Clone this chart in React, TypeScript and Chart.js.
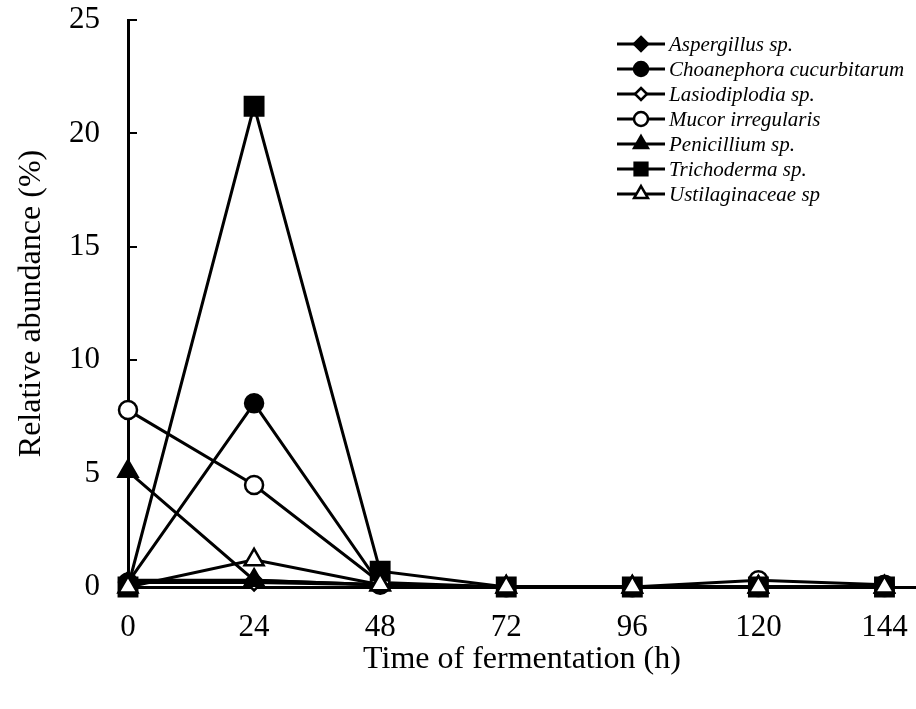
import React, { useEffect, useRef } from "react";
import { Chart, registerables } from "chart.js";

Chart.register(...registerables);

const hours = [0, 24, 48, 72, 96, 120, 144];
const seriesNames = [
  "Aspergillus sp.",
  "Choanephora cucurbitarum",
  "Lasiodiplodia sp.",
  "Mucor irregularis",
  "Penicillium sp.",
  "Trichoderma sp.",
  "Ustilaginaceae sp",
];
const aspergillus = [0.3, 0.3, 0.1, 0, 0, 0, 0];
const choanephora = [0.2, 8.1, 0.1, 0, 0, 0, 0];
const lasiodiplodia = [0.2, 0.2, 0.1, 0, 0, 0, 0];
const mucor = [7.8, 4.5, 0.2, 0, 0, 0.3, 0.1];
const penicillium = [5.1, 0.3, 0.1, 0, 0, 0, 0];
const trichoderma = [0, 21.2, 0.7, 0, 0, 0, 0];
const ustilaginaceae = [0, 1.2, 0.1, 0, 0, 0, 0];
const yTicks = [0, 5, 10, 15, 20, 25];

const seriesValues = [aspergillus, choanephora, lasiodiplodia, mucor, penicillium, trichoderma, ustilaginaceae];
const markerStyles = ["rectRot", "circle", "rectRot", "circle", "triangle", "rect", "triangle"];
const markerFill = ["#000", "#000", "#fff", "#fff", "#000", "#000", "#fff"];
const markerRadius = [8, 9, 8, 9, 11, 13, 11];
const legendRadius = [7, 7, 6, 7, 8, 9, 8];

const FONT = "'Liberation Serif', 'DejaVu Serif', serif";

function drawMarker(ctx: CanvasRenderingContext2D, style: string, r: number, x: number, y: number, fill: string) {
  ctx.beginPath();
  if (style === "circle") {
    ctx.arc(x, y, r, 0, Math.PI * 2);
  } else if (style === "rect") {
    const s = r * Math.SQRT1_2;
    ctx.rect(x - s, y - s, 2 * s, 2 * s);
  } else if (style === "rectRot") {
    ctx.moveTo(x, y - r);
    ctx.lineTo(x + r, y);
    ctx.lineTo(x, y + r);
    ctx.lineTo(x - r, y);
    ctx.closePath();
  } else if (style === "triangle") {
    ctx.moveTo(x, y - r);
    ctx.lineTo(x + r * Math.sin(Math.PI / 3), y + r * 0.5);
    ctx.lineTo(x - r * Math.sin(Math.PI / 3), y + r * 0.5);
    ctx.closePath();
  }
  ctx.fillStyle = fill;
  ctx.fill();
  ctx.strokeStyle = "#000";
  ctx.lineWidth = 2.5;
  ctx.stroke();
}

const legendPlugin = {
  id: "customLegend",
  afterDraw(chart: any) {
    const ctx = chart.ctx as CanvasRenderingContext2D;
    ctx.save();
    const x0 = 617;
    const x1 = 665;
    const mx = 641;
    seriesNames.forEach((name, i) => {
      const y = 44 + i * 25;
      ctx.strokeStyle = "#000";
      ctx.lineWidth = 3;
      ctx.beginPath();
      ctx.moveTo(x0, y);
      ctx.lineTo(x1, y);
      ctx.stroke();
      drawMarker(ctx, markerStyles[i], legendRadius[i], mx, y, markerFill[i]);
      ctx.fillStyle = "#000";
      ctx.font = `italic 21px ${FONT}`;
      ctx.textAlign = "left";
      ctx.textBaseline = "middle";
      ctx.fillText(name, 669, y + 1);
    });
    ctx.restore();
  },
};

function zeroPadding(s: any) {
  s.paddingTop = 0;
  s.paddingBottom = 0;
  s.paddingLeft = 0;
  s.paddingRight = 0;
}

export default function App() {
  const ref = useRef<HTMLCanvasElement | null>(null);
  useEffect(() => {
    document.body.style.margin = "0";
    const canvas = ref.current;
    if (!canvas) return;
    const datasets = seriesNames.map((name, i) => ({
      label: name,
      data: hours.map((h, j) => ({ x: h, y: seriesValues[i][j] })),
      borderColor: "#000",
      borderWidth: 3,
      backgroundColor: markerFill[i],
      pointBackgroundColor: markerFill[i],
      pointBorderColor: "#000",
      pointBorderWidth: 2.5,
      pointStyle: markerStyles[i],
      pointRadius: markerRadius[i],
      pointHoverRadius: markerRadius[i],
      tension: 0,
      clip: false as any,
      order: seriesNames.length - i,
    }));
    const chart = new Chart(canvas, {
      type: "line",
      data: { datasets },
      plugins: [legendPlugin],
      options: {
        animation: false,
        responsive: false,
        maintainAspectRatio: false,
        layout: { autoPadding: false, padding: { top: 20, right: 0, left: 0, bottom: 0 } },
        plugins: { legend: { display: false }, tooltip: { enabled: false } },
        scales: {
          x: {
            type: "linear",
            min: 0,
            max: 150,
            afterBuildTicks: (s: any) => {
              s.ticks = hours.map((v) => ({ value: v }));
            },
            afterFit: (s: any) => {
              s.height = 122;
              zeroPadding(s);
            },
            grid: { display: true, drawOnChartArea: false, drawTicks: false },
            border: { display: true, color: "#000", width: 3 },
            ticks: {
              color: "#000",
              font: { family: FONT, size: 31 },
              padding: 22,
              maxRotation: 0,
              autoSkip: false,
            },
            title: {
              display: true,
              text: "Time of fermentation (h)",
              color: "#000",
              font: { family: FONT, size: 32 },
              padding: { top: 0, bottom: 30 },
            },
          },
          y: {
            type: "linear",
            min: 0,
            max: 25,
            afterBuildTicks: (s: any) => {
              s.ticks = yTicks.map((v) => ({ value: v }));
            },
            afterFit: (s: any) => {
              s.width = 128;
              zeroPadding(s);
            },
            grid: { display: true, drawOnChartArea: false, drawTicks: true, tickLength: -9, color: "#000", lineWidth: 2 },
            border: { display: true, color: "#000", width: 3 },
            ticks: {
              color: "#000",
              font: { family: FONT, size: 31 },
              padding: 37,
            },
            title: {
              display: true,
              text: "Relative abundance (%)",
              color: "#000",
              font: { family: FONT, size: 32 },
              padding: { top: 12, bottom: 0 },
            },
          },
        },
      },
    });
    return () => chart.destroy();
  }, []);
  return (
    <div style={{ width: 916, height: 709, background: "#fff" }}>
      <canvas ref={ref} width={916} height={709} style={{ display: "block" }} />
    </div>
  );
}
